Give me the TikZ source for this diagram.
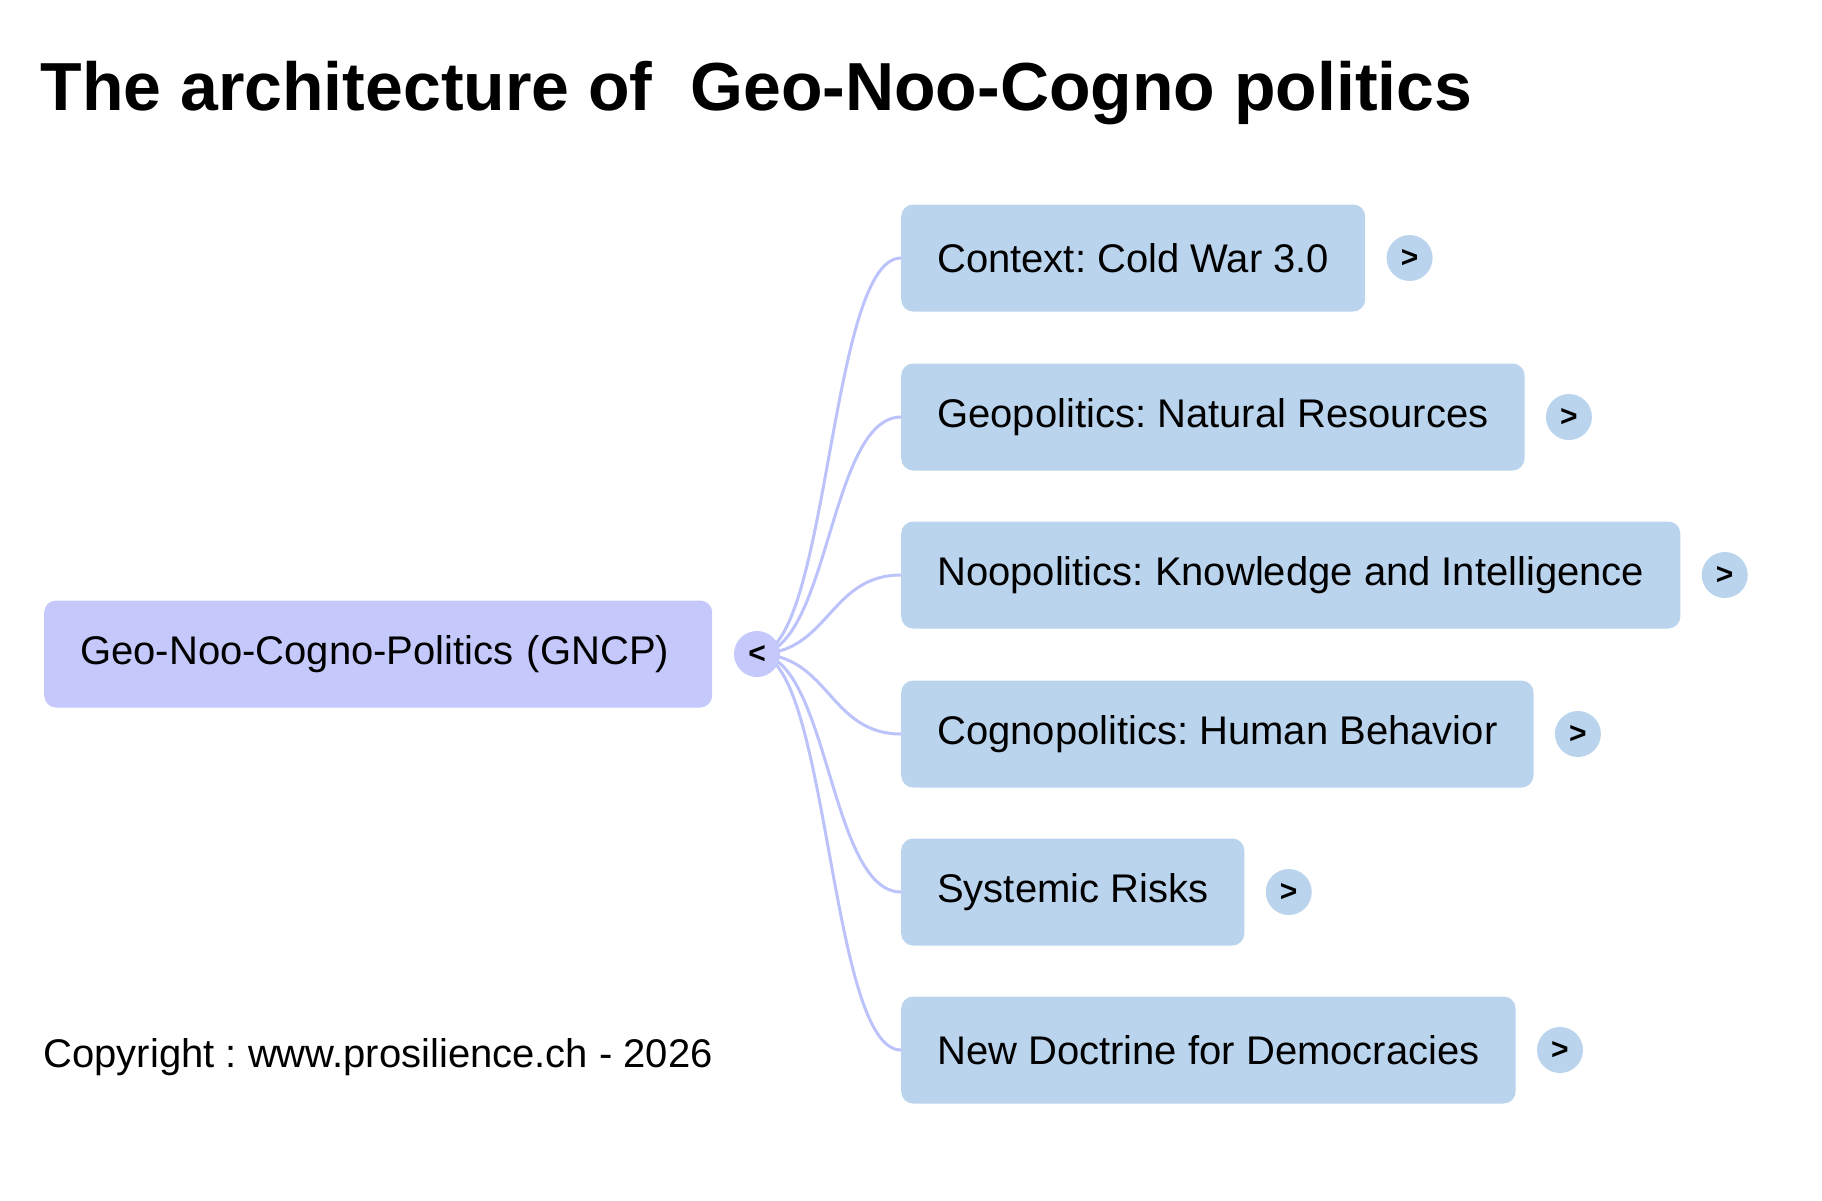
\documentclass[tikz,border=0pt]{standalone}
\usepackage{fontspec}
\setmainfont{Liberation Sans}
\usetikzlibrary{positioning}
\definecolor{rootfill}{HTML}{C4C8FB}
\definecolor{topicfill}{HTML}{BBD4EE}
\definecolor{linkcol}{HTML}{BCC2FA}
\def\drawlink{\draw[color=linkcol, line width=3pt]}
\def\topicnode{\node[topic]}
\def\togglenode{\node[toggle]}
\frenchspacing

\begin{document}
\begin{tikzpicture}[x=1pt,y=-1pt,
  rootbox/.style={rectangle,rounded corners=12pt,fill=rootfill,minimum height=107pt,
    text width=596pt,align=left,inner xsep=36pt,anchor=west,font=\fontsize{40}{48}\selectfont},
  topic/.style={rectangle,rounded corners=12pt,fill=topicfill,minimum height=107pt,
    inner xsep=36pt,anchor=west,font=\fontsize{40}{48}\selectfont},
  toggle/.style={circle,fill=topicfill,minimum size=46pt,inner sep=0pt,
    font=\bfseries\fontsize{30}{34}\selectfont}]
\useasboundingbox (0,0) rectangle (1822,1200);
\node[anchor=base west,font=\bfseries\fontsize{68}{80}\selectfont] (title) at (37,110)
  {The architecture of \ Geo-Noo-Cogno politics};
\node[anchor=base west,font=\fontsize{40}{48}\selectfont] (copy) at (40,1067)
  {Copyright : www.prosilience.ch - 2026};

% root and its branches
\node[rootbox] (gncp) at (44,654) {Geo-Noo-Cogno-Politics (GNCP)};
\coordinate (hub) at (757,654);
\topicnode (ctx) at (901,258) {Context: Cold War 3.0};
\topicnode (geo) at (901,417) {Geopolitics: Natural Resources};
\topicnode (noo) at (901,575) {Noopolitics: Knowledge and Intelligence};
\topicnode (cog) at (901,734) {Cognopolitics: Human Behavior};
\topicnode (sys) at (901,892) {Systemic Risks};
\topicnode (doc) at (901,1050) {New Doctrine for Democracies};

\foreach \t in {ctx,geo,noo,cog,sys,doc}
  \drawlink (hub) .. controls +(72,0) and +(-72,0) .. (\t.west);

% collapse / expand buttons
\togglenode[fill=rootfill] (hubtog) at (hub) {<};
\foreach \t in {ctx,geo,noo,cog,sys,doc}
  \togglenode[right=21pt of \t] (\t tog) {>};
\end{tikzpicture}
\end{document}
